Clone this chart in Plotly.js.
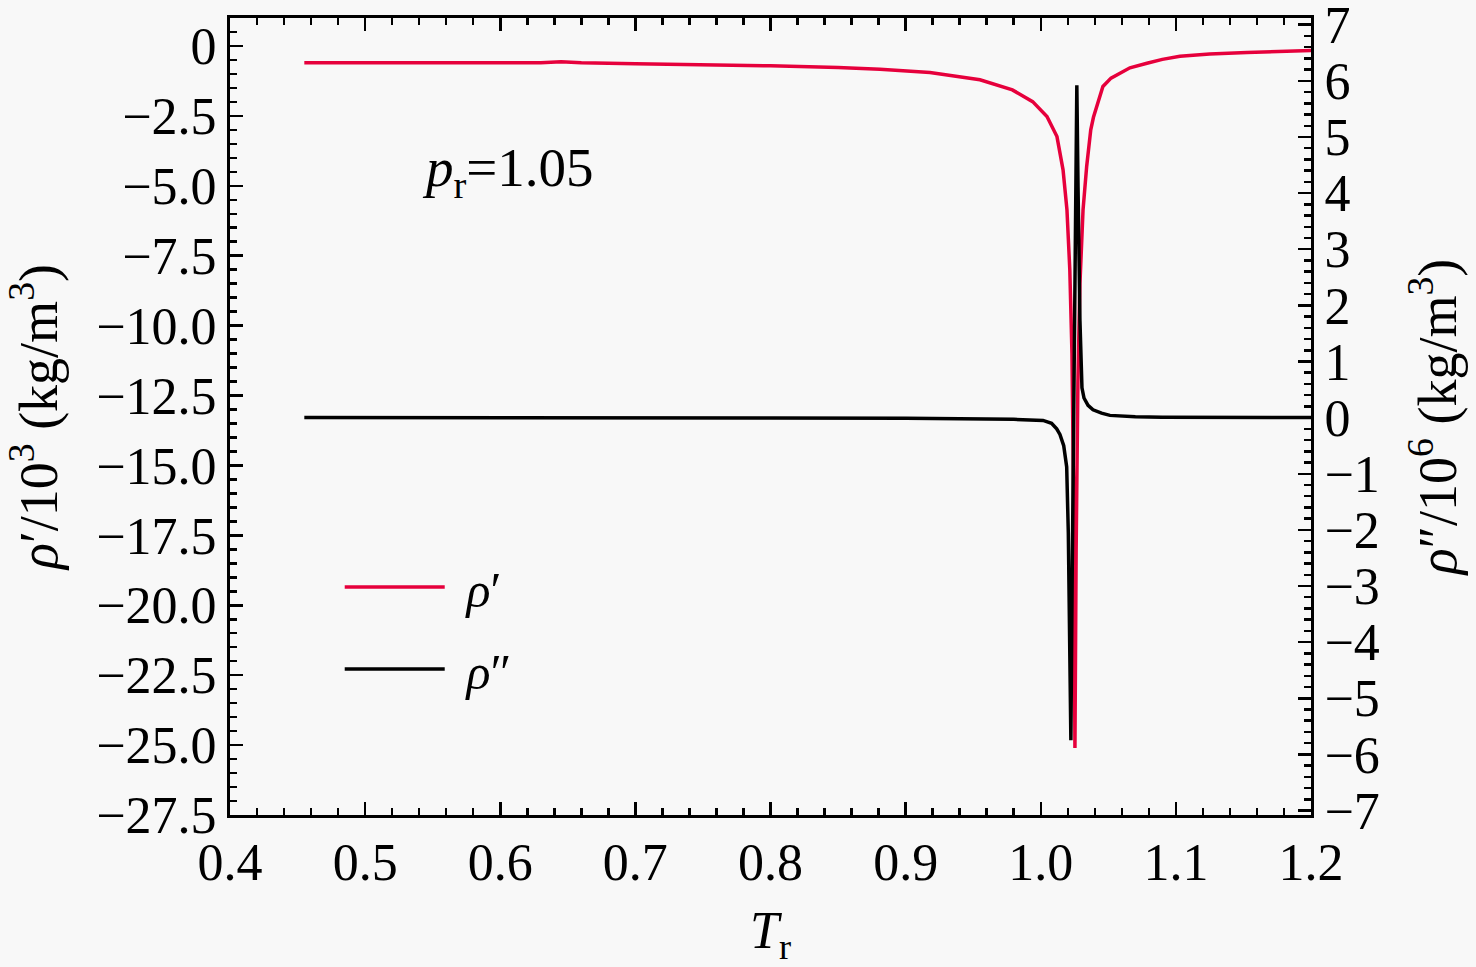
<!DOCTYPE html>
<html>
<head>
<meta charset="utf-8">
<script src="https://cdn.plot.ly/plotly-3.0.1.min.js"></script>
<style>html,body{margin:0;padding:0;background:#f8f8f8;}#chart{width:1476px;height:967px;}</style>
</head>
<body>
<div id="chart"></div>
<script>
// rho' (left axis, x10^3 kg/m^3) vs reduced temperature
const redT = [0.455,0.50,0.55,0.60,0.63,0.645,0.66,0.70,0.75,0.80,0.85,0.881,0.918,0.955,0.979,0.994,1.0046,1.012,1.0165,1.0194,1.0215,1.0231,1.0243,1.0253,1.0262,1.0275,1.0290,1.0313,1.0340,1.0370,1.0390,1.0460,1.0520,1.0587,1.0660,1.0786,1.0900,1.1030,1.1250,1.1526,1.1800,1.2000];
const redV = [-0.60,-0.60,-0.60,-0.60,-0.60,-0.56,-0.60,-0.64,-0.67,-0.71,-0.77,-0.83,-0.95,-1.21,-1.57,-1.99,-2.52,-3.24,-4.43,-5.86,-8.0,-11.0,-16.0,-25.1,-18.0,-12.0,-8.5,-5.86,-4.3,-3.0,-2.55,-1.45,-1.15,-0.98,-0.78,-0.62,-0.48,-0.37,-0.29,-0.23,-0.19,-0.16];
// rho'' (right axis, x10^6 kg/m^3)
const blackT = [0.455,0.60,0.645,0.70,0.80,0.90,0.94,0.98,1.0017,1.008,1.0118,1.0142,1.0170,1.0192,1.0204,1.0217,1.0223,1.0232,1.0245,1.0258,1.0267,1.0276,1.0290,1.0305,1.0320,1.0350,1.0387,1.0450,1.0512,1.0700,1.0900,1.2000];
const blackV = [0,0,0.01,0,-0.005,-0.01,-0.015,-0.03,-0.05,-0.10,-0.20,-0.30,-0.50,-0.88,-2.06,-5.62,-5.75,-3.0,0.5,4.0,5.92,4.1,1.73,0.53,0.35,0.22,0.14,0.08,0.04,0.015,0.005,0.0];

const leftTickVals = [0,-2.5,-5,-7.5,-10,-12.5,-15,-17.5,-20,-22.5,-25,-27.5];
const leftTickText = ['0','\u22122.5','\u22125.0','\u22127.5','\u221210.0','\u221212.5','\u221215.0','\u221217.5','\u221220.0','\u221222.5','\u221225.0','\u221227.5'];

const FONT = 'Liberation Serif, Times New Roman, serif';
const BG = '#f8f8f8';

const traces = [
  {x: blackT, y: blackV, name: '\u2004<i>\u03C1</i>\u2033', type: 'scatter', mode: 'lines',
   line: {color: '#000000', width: 3.5}, yaxis: 'y2', legendgroup: 'b', legendrank: 2},
  {x: redT, y: redV, name: '\u2004<i>\u03C1</i>\u2032', type: 'scatter', mode: 'lines',
   line: {color: '#e6003c', width: 3.5}, yaxis: 'y', legendgroup: 'a', legendrank: 1}
];

const axisCommon = {
  showgrid: false, zeroline: false, showline: true, linecolor: '#000', linewidth: 3,
  ticks: 'inside', tickcolor: '#000', tickwidth: 2.5, ticklen: 13,
  ticklabeloverflow: 'allow',
  tickfont: {family: FONT, size: 52, color: '#000'}
};

const layout = {
  width: 1476, height: 967,
  paper_bgcolor: BG, plot_bgcolor: BG,
  margin: {l: 230, r: 165, t: 18, b: 152},
  font: {family: FONT, color: '#000'},
  showlegend: true,
  legend: {x: 0.1015, y: 0.335, xanchor: 'left', yanchor: 'top', bgcolor: 'rgba(0,0,0,0)',
           traceorder: 'grouped',
           font: {family: FONT, size: 50, color: '#000'}, itemwidth: 100, tracegroupgap: 14},
  xaxis: Object.assign({}, axisCommon, {
    range: [0.4, 1.2], dtick: 0.1, tick0: 0.4, tickformat: '.1f', mirror: 'ticks',
    minor: {dtick: 0.02, ticks: 'inside', ticklen: 7, tickwidth: 2.5, tickcolor: '#000'},
    title: {text: '<i>T</i><sub>r</sub>', font: {family: FONT, size: 52}, standoff: 24}
  }),
  yaxis: Object.assign({}, axisCommon, {
    range: [-27.5, 1.0], tickvals: leftTickVals, ticktext: leftTickText,
    minor: {dtick: 0.5, tick0: 0, ticks: 'inside', ticklen: 7, tickwidth: 2.5, tickcolor: '#000'},
    title: {text: '<i>\u03C1</i>\u2032/10<sup>3</sup> (kg/m<sup>3</sup>)', font: {family: FONT, size: 54}, standoff: 36}
  }),
  yaxis2: Object.assign({}, axisCommon, {
    overlaying: 'y', side: 'right', range: [-7.08, 7.12], dtick: 1, tick0: 0,
    minor: {dtick: 0.2, tick0: 0, ticks: 'inside', ticklen: 7, tickwidth: 2.5, tickcolor: '#000'},
    title: {text: '<i>\u03C1</i>\u2033/10<sup>6</sup> (kg/m<sup>3</sup>)', font: {family: FONT, size: 54}, standoff: 40}
  }),
  annotations: [{
    xref: 'paper', yref: 'paper', x: 0.176, y: 0.853, xanchor: 'left', showarrow: false,
    text: '<i>p</i><sub>r</sub>=1.05', font: {family: FONT, size: 55, color: '#000'}
  }]
};

Plotly.newPlot('chart', traces, layout, {staticPlot: true, displayModeBar: false});
</script>
</body>
</html>
